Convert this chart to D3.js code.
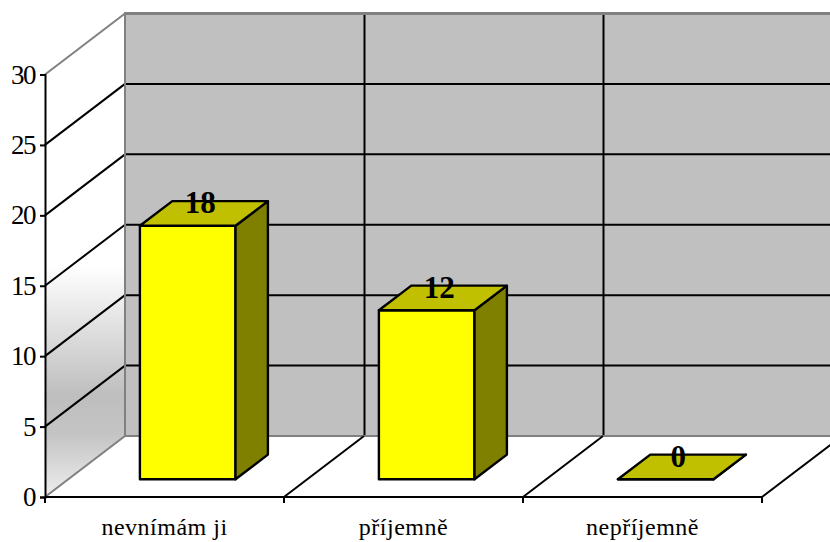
<!DOCTYPE html>
<html>
<head>
<meta charset="utf-8">
<script src="https://cdn.jsdelivr.net/npm/d3@7/dist/d3.min.js"></script>
<style>
html,body{margin:0;padding:0;background:#fff;}
svg{display:block;}
text{font-family:"Liberation Serif",serif;fill:#000;}
</style>
</head>
<body>
<svg id="chart" width="830" height="542"></svg>
<script>
const categories = ["nevnímám ji", "příjemně", "nepříjemně"];
const answers = [18, 12, 0];
const yTicks = [0, 5, 10, 15, 20, 25, 30];

const W = 830, H = 542;
const svg = d3.select("#chart");

// Oblique projection: depth 0 is the front plane, depth 1 the back wall.
const depthX = 80, depthY = -61;
const project = (px, py, d) => [px + depthX * d, py + depthY * d];
const poly = pts => pts.map(p => p.map(v => +v.toFixed(2)).join(",")).join(" ");

const x = d3.scaleBand().domain(categories).range([45, 762]).paddingInner(0.6).paddingOuter(0.3);
const y = d3.scaleLinear().domain([0, 30]).range([497, 74.5]);
const step = 717 / categories.length;
const plotLeft = 45, plotRight = 762, base = y(0), plotTop = y(30);
const edges = d3.range(categories.length + 1).map(i => plotLeft + i * step);
const barNear = 0.29, barFar = 0.695;

const defs = svg.append("defs");
const wallFill = defs.append("linearGradient").attr("id", "wallFill")
  .attr("gradientUnits", "userSpaceOnUse")
  .attr("x1", 0).attr("x2", 0).attr("y1", 14).attr("y2", base);
[[0, "#ffffff"], [0.52, "#ffffff"], [0.79, "#bebebe"], [0.87, "#c4c4c4"], [1, "#eeeeee"]]
  .forEach(([o, c]) => wallFill.append("stop").attr("offset", o).attr("stop-color", c));

// Back wall
const [bx0, byTop] = project(plotLeft, plotTop, 1);
const [, byBase] = project(plotLeft, base, 1);
svg.append("rect").attr("x", bx0).attr("y", byTop)
  .attr("width", W + 20 - bx0).attr("height", byBase - byTop).attr("fill", "#c0c0c0");

// Horizontal gridlines on the back wall and across the side wall
const gridTicks = yTicks.filter(t => t > 0 && t < 30);
svg.append("g").selectAll("line").data(gridTicks).join("line")
  .attr("x1", bx0).attr("x2", W + 20)
  .attr("y1", t => project(plotLeft, y(t), 1)[1]).attr("y2", t => project(plotLeft, y(t), 1)[1])
  .attr("stroke", "#000").attr("stroke-width", 2);

// Vertical gridlines on the back wall
svg.append("g").selectAll("line").data(edges.slice(1, -1)).join("line")
  .attr("x1", e => project(e, 0, 1)[0] + 0.5).attr("x2", e => project(e, 0, 1)[0] + 0.5)
  .attr("y1", byTop).attr("y2", byBase)
  .attr("stroke", "#000").attr("stroke-width", 2);

// Floor
svg.append("polygon")
  .attr("points", poly([[plotLeft, base], [plotRight + 200, base], project(plotRight + 200, base, 1), project(plotLeft, base, 1)]))
  .attr("fill", "#fff");

// Side wall
svg.append("polygon")
  .attr("points", poly([[plotLeft, base], [plotLeft, plotTop], project(plotLeft, plotTop, 1), project(plotLeft, base, 1)]))
  .attr("fill", "url(#wallFill)");

svg.append("g").selectAll("line").data(gridTicks).join("line")
  .attr("x1", plotLeft).attr("y1", t => y(t))
  .attr("x2", t => project(plotLeft, y(t), 1)[0]).attr("y2", t => project(plotLeft, y(t), 1)[1])
  .attr("stroke", "#000").attr("stroke-width", 2);

// Wall outlines
svg.append("path")
  .attr("d", `M${plotLeft},${plotTop}L${project(plotLeft, plotTop, 1)}`)
  .attr("fill", "none").attr("stroke", "#808080").attr("stroke-width", 2);
svg.append("line").attr("x1", bx0 - 1).attr("x2", W + 20).attr("y1", byTop).attr("y2", byTop)
  .attr("stroke", "#808080").attr("stroke-width", 3);
svg.append("path")
  .attr("d", `M${plotLeft},${base}L${project(plotLeft, base, 1)}L${W + 20},${byBase}M${bx0},${byTop}L${bx0},${byBase}`)
  .attr("fill", "none").attr("stroke", "#808080").attr("stroke-width", 2);

// Floor divisions between categories
svg.append("g").selectAll("line").data(edges.slice(1)).join("line")
  .attr("x1", e => e).attr("y1", base)
  .attr("x2", e => project(e, base, 1)[0]).attr("y2", byBase)
  .attr("stroke", "#000").attr("stroke-width", 2);

// Bars: front, side and top faces
const bars = svg.append("g").selectAll("g").data(answers).join("g");
const barX = i => x(categories[i]);
const bw = x.bandwidth();
const barStroke = g => g.attr("stroke", "#000").attr("stroke-width", 2.4).attr("stroke-linejoin", "round");

bars.append("polygon")
  .attr("points", (v, i) => poly([
    project(barX(i), base, barNear), project(barX(i) + bw, base, barNear),
    project(barX(i) + bw, y(v), barNear), project(barX(i), y(v), barNear)]))
  .attr("fill", "#ffff00").call(barStroke);
bars.append("polygon")
  .attr("points", (v, i) => poly([
    project(barX(i) + bw, base, barNear), project(barX(i) + bw, base, barFar),
    project(barX(i) + bw, y(v), barFar), project(barX(i) + bw, y(v), barNear)]))
  .attr("fill", "#808000").call(barStroke);
bars.append("polygon")
  .attr("points", (v, i) => poly([
    project(barX(i), y(v), barNear), project(barX(i) + bw, y(v), barNear),
    project(barX(i) + bw, y(v), barFar), project(barX(i), y(v), barFar)]))
  .attr("fill", "#c0c000").call(barStroke);

// Value labels sit over the top face of each bar
bars.append("text")
  .attr("x", (v, i) => project(barX(i) + bw / 2, 0, barNear)[0] + 12.5)
  .attr("y", v => project(0, y(v), barNear)[1] - 12.5)
  .attr("text-anchor", "middle")
  .attr("font-size", 31).attr("font-weight", "bold")
  .text(v => v);

// Value axis
const yAxis = svg.append("g").attr("transform", `translate(${plotLeft},0)`)
  .call(d3.axisLeft(y).tickValues(yTicks).tickSize(5).tickPadding(5));
yAxis.select(".domain").attr("stroke", "#000").attr("stroke-width", 2);
yAxis.selectAll(".tick line").attr("stroke", "#000").attr("stroke-width", 2);
yAxis.selectAll("text").attr("font-size", 27).attr("font-family", "Liberation Serif").attr("letter-spacing", -1.5);

// Category axis: ticks fall on the band edges, labels in the band centres
svg.append("line").attr("x1", plotLeft).attr("x2", plotRight).attr("y1", base).attr("y2", base)
  .attr("stroke", "#000").attr("stroke-width", 2);
svg.append("g").selectAll("line").data(edges).join("line")
  .attr("x1", e => e).attr("x2", e => e).attr("y1", base).attr("y2", base + 6)
  .attr("stroke", "#000").attr("stroke-width", 2);
const xAxis = svg.append("g").attr("transform", `translate(0,${base})`)
  .call(d3.axisBottom(x).tickSize(0).tickPadding(21));
xAxis.select(".domain").remove();
xAxis.selectAll("text").attr("font-size", 24).attr("font-family", "Liberation Serif").attr("letter-spacing", 0.5);
</script>
</body>
</html>
